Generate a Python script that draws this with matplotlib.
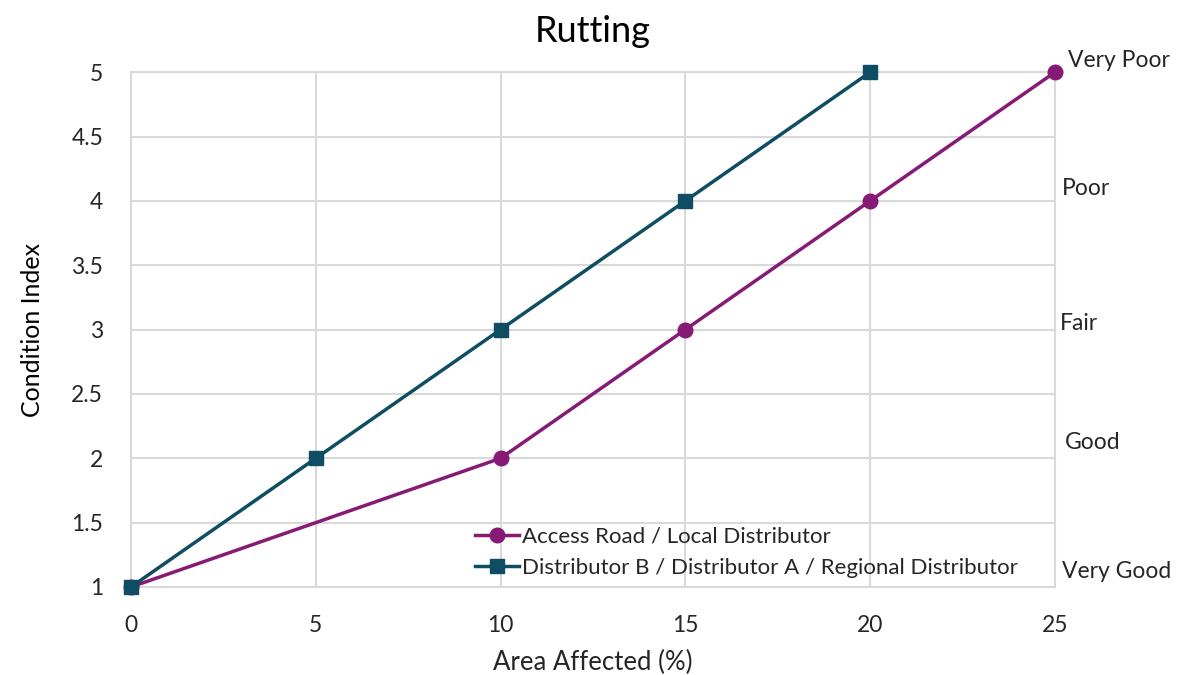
import matplotlib
matplotlib.use("Agg")
import matplotlib.pyplot as plt

# Data
access_x = [0, 10, 15, 20, 25]
access_y = [1, 2, 3, 4, 5]
dist_x = [0, 5, 10, 15, 20]
dist_y = [1, 2, 3, 4, 5]
x_ticks = [0, 5, 10, 15, 20, 25]
y_ticks = [1, 1.5, 2, 2.5, 3, 3.5, 4, 4.5, 5]
y_ticklabels = ["1", "1.5", "2", "2.5", "3", "3.5", "4", "4.5", "5"]
condition_labels = ["Very Good", "Good", "Fair", "Poor", "Very Poor"]
condition_pos = [(25.2, 1.12), (25.27, 2.12), (25.13, 3.05), (25.2, 4.10), (25.35, 5.09)]

plt.rcParams["font.family"] = ["Lato", "DejaVu Sans"]

purple = "#861a75"
teal = "#0f4e62"
grid_c = "#d9d9d9"
text_c = "#262626"

fig = plt.figure(figsize=(11.8, 6.75), dpi=100)
ax = fig.add_axes([0.111, 0.1304, 0.783, 0.7626])

ax.plot(access_x, access_y, color=purple, lw=2.5, marker="o", ms=10.5,
        label="Access Road / Local Distributor", zorder=3, clip_on=False)
ax.plot(dist_x, dist_y, color=teal, lw=2.5, marker="s", ms=10.5,
        label="Distributor B / Distributor A / Regional Distributor", zorder=3, clip_on=False)

ax.set_xlim(0, 25)
ax.set_ylim(1, 5)
ax.set_xticks(x_ticks)
ax.set_yticks(y_ticks)
ax.set_yticklabels(y_ticklabels)
ax.grid(True, color=grid_c, lw=1.5, zorder=0)
for s in ax.spines.values():
    s.set_color(grid_c)
    s.set_linewidth(1.5)
ax.tick_params(length=0, labelsize=16.5, labelcolor=text_c)
ax.tick_params(axis="x", pad=20)
ax.tick_params(axis="y", pad=20)

ax.set_title("Rutting", fontsize=26, color="black", pad=22)
ax.set_xlabel("Area Affected (%)", fontsize=18.5, color=text_c, labelpad=10)
ax.set_ylabel("Condition Index", fontsize=18, color="black", labelpad=20)

for lab, (px, py) in zip(condition_labels, condition_pos):
    ax.text(px, py, lab, fontsize=16.5, color=text_c, ha="left", va="center", clip_on=False)

leg = ax.legend(loc="lower left", bbox_to_anchor=(0.355, -0.012), frameon=False,
                fontsize=16, handlelength=2.0, handletextpad=0.15, labelspacing=0.5,
                borderpad=0.2, labelcolor=text_c)

fig.savefig("out.png", dpi=100, facecolor="white")
